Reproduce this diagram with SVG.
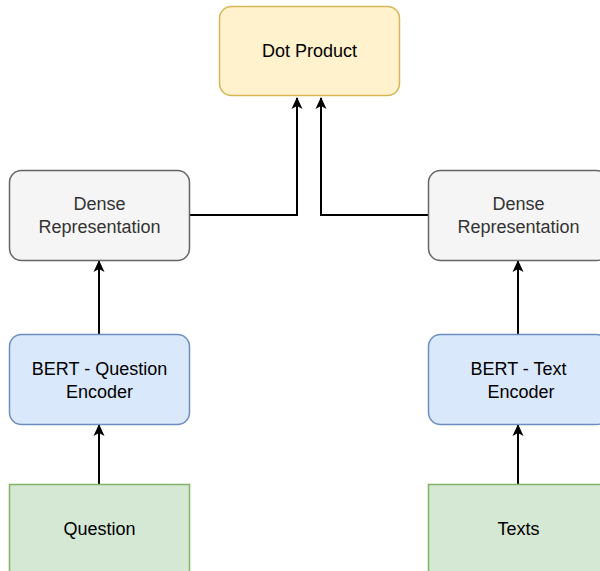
<svg xmlns="http://www.w3.org/2000/svg" width="600" height="571" viewBox="0 0 600 571">
<defs>
<marker id="arr" viewBox="0 0 12 12" refX="11" refY="6" markerWidth="12" markerHeight="12" markerUnits="userSpaceOnUse" orient="auto">
<path d="M0,0.5 L12,6 L0,11.5 L3,6 Z" fill="#000"/>
</marker>
<style>
.t{font-family:"Liberation Sans",Arial,Helvetica,sans-serif;font-size:18px;text-anchor:middle;fill:#000}
.g{fill:#333}
.c{fill:none;stroke:#000;stroke-width:2;marker-end:url(#arr)}
</style>
</defs>
<rect width="600" height="571" fill="#fff"/>
<g id="connectors">
<path class="c" d="M189,215 H297 V98"/>
<path class="c" d="M428,215 H321 V98"/>
<path class="c" d="M99,334 V261"/>
<path class="c" d="M518,334 V261"/>
<path class="c" d="M99,484 V425"/>
<path class="c" d="M518,484 V425"/>
</g>
<g id="dot">
<rect x="219.5" y="6.5" width="180" height="89" rx="12" fill="#fff2cc" stroke="#d6b656" stroke-width="1.5"/>
<text class="t" x="309.5" y="56.5">Dot Product</text>
</g>
<g id="dense-left">
<rect x="9.5" y="170.5" width="180" height="90" rx="12" fill="#f5f5f5" stroke="#666" stroke-width="1.5"/>
<text class="t g" x="99.5" y="209.5">Dense</text>
<text class="t g" x="99.5" y="232.5">Representation</text>
</g>
<g id="dense-right">
<rect x="428.5" y="170.5" width="180" height="90" rx="12" fill="#f5f5f5" stroke="#666" stroke-width="1.5"/>
<text class="t g" x="518.5" y="209.5">Dense</text>
<text class="t g" x="518.5" y="232.5">Representation</text>
</g>
<g id="bert-question">
<rect x="9.5" y="334.5" width="180" height="90" rx="12" fill="#dae8fc" stroke="#6c8ebf" stroke-width="1.5"/>
<text class="t" x="99.5" y="374.5">BERT - Question</text>
<text class="t" x="99.5" y="397.5">Encoder</text>
</g>
<g id="bert-text">
<rect x="428.5" y="334.5" width="180" height="90" rx="12" fill="#dae8fc" stroke="#6c8ebf" stroke-width="1.5"/>
<text class="t" x="518.5" y="374.5">BERT - Text</text>
<text class="t" x="521" y="397.5">Encoder</text>
</g>
<g id="question">
<rect x="9.5" y="484.5" width="180" height="100" fill="#d5e8d4" stroke="#82b366" stroke-width="1.5"/>
<text class="t" x="99.5" y="534.5">Question</text>
</g>
<g id="texts">
<rect x="428.5" y="484.5" width="180" height="100" fill="#d5e8d4" stroke="#82b366" stroke-width="1.5"/>
<text class="t" x="518.5" y="534.5">Texts</text>
</g>
</svg>
